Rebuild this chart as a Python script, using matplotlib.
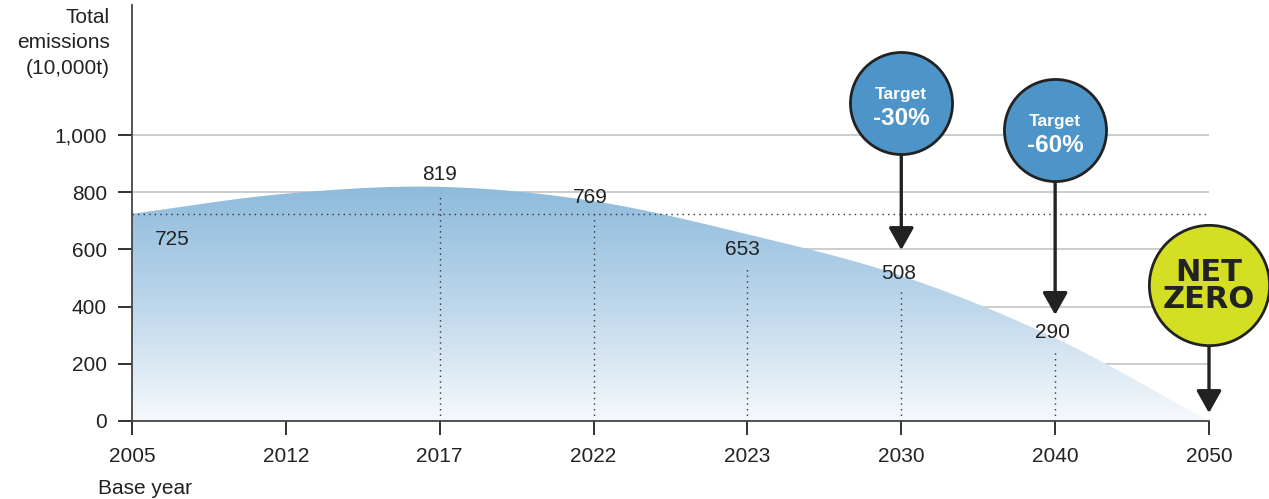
import numpy as np
import matplotlib
matplotlib.use("Agg")
import matplotlib.pyplot as plt
from matplotlib.colors import LinearSegmentedColormap
from matplotlib.patches import Polygon

plt.rcParams['font.family'] = ['Liberation Sans', 'DejaVu Sans']

# data
years = ['2005', '2012', '2017', '2022', '2023', '2030', '2040', '2050']
emissions = [725, 795, 819, 769, 653, 508, 290, 0]
show_label = [True, False, True, True, True, True, True, False]
# label offsets (data units) from the value
label_dy = [-90, 0, 42, 14, -52, 9, 18, 0]
label_dx = [0.26, 0, 0, -0.02, -0.03, -0.02, -0.02, 0]

targets = [('Target', '-30%'), ('Target', '-60%')]
target_x = [5, 6]

fig = plt.figure(figsize=(12.69, 4.99), dpi=100)
ax = fig.add_axes([132 / 1269, 78 / 499, 1077 / 1269, 416 / 499])
ax.set_xlim(0, 7)
ax.set_ylim(0, 1455)

x = np.arange(len(years))
y = np.array(emissions, dtype=float)

# smooth curve through points (Catmull-Rom)
px = np.concatenate([[x[0] - 1], x, [x[-1] + 1]]).astype(float)
py = np.concatenate([[2 * y[0] - y[1]], y, [2 * y[-1] - y[-2]]])
cx, cy = [], []
for i in range(1, len(px) - 2):
    t = np.linspace(0, 1, 40)
    for arr, out in ((px, cx), (py, cy)):
        p0, p1, p2, p3 = arr[i - 1], arr[i], arr[i + 1], arr[i + 2]
        out.extend(0.5 * ((2 * p1) + (-p0 + p2) * t + (2 * p0 - 5 * p1 + 4 * p2 - p3) * t ** 2
                          + (-p0 + 3 * p1 - 3 * p2 + p3) * t ** 3))
cx = np.array(cx)
cy = np.clip(np.array(cy), 0, None)

# gradient fill
cmap = LinearSegmentedColormap.from_list('g', ['#f6f9fc', '#bcd6eb', '#8dbadb'])
grad = np.linspace(0, 1, 256).reshape(-1, 1)
im = ax.imshow(grad, extent=[0, 7, 0, 830], origin='lower', aspect='auto', cmap=cmap, zorder=1)
poly = Polygon(np.column_stack([np.concatenate([[0], cx, [7]]), np.concatenate([[0], cy, [0]])]),
               closed=True, facecolor='none', edgecolor='none')
ax.add_patch(poly)
im.set_clip_path(poly)

# grid
for g in [200, 400, 600, 800, 1000]:
    ax.axhline(g, color='#c8c8c8', lw=1.3, zorder=0.5)

# base year dotted line
ax.plot([0, 7], [emissions[0]] * 2, color='#333333', lw=1, ls=(0, (1, 3)), zorder=3)

# labels and vertical dotted lines
for i in range(len(years)):
    if not show_label[i]:
        continue
    ly = emissions[i] + label_dy[i]
    ax.text(x[i] + label_dx[i], ly, str(emissions[i]), ha='center', va='center',
            fontsize=15, color='#222222', zorder=5)
    if i > 0:
        ax.plot([x[i], x[i]], [0, ly - 63], color='#333333', lw=1, ls=(0, (1, 3)), zorder=3)

# target circles
for (t1, t2), tx in zip(targets, target_x):
    cy_c = 1112 if tx == 5 else 1017
    tip = emissions[tx] + (90 if tx == 5 else 81)
    ax.annotate('', xy=(tx, tip), xytext=(tx, cy_c), zorder=6,
                arrowprops=dict(arrowstyle='-|>,head_length=0.8,head_width=0.45', mutation_scale=17,
                                color='#222222', lw=2.4, shrinkA=0, shrinkB=0))
    ax.scatter([tx], [cy_c], s=5400, color='#4d94c9', edgecolor='#222222', linewidth=2,
               zorder=7, clip_on=False)
    ax.text(tx, cy_c + 30, t1, ha='center', va='center', fontsize=12.5, fontweight='bold',
            color='white', zorder=8)
    ax.text(tx, cy_c - 54, t2, ha='center', va='center', fontsize=17.5, fontweight='bold',
            color='white', zorder=8)

# net zero
ax.annotate('', xy=(7, 28), xytext=(7, 475), zorder=6, annotation_clip=False,
            arrowprops=dict(arrowstyle='-|>,head_length=0.8,head_width=0.45', mutation_scale=17,
                            color='#222222', lw=2.4, shrinkA=0, shrinkB=0))
ax.scatter([7], [475], s=7500, color='#d4df23', edgecolor='#222222', linewidth=2,
           zorder=7, clip_on=False)
ax.text(7, 472, 'NET\nZERO', ha='center', va='center', fontsize=22, fontweight='bold',
        color='#222222', linespacing=0.92, zorder=8, family='DejaVu Sans')

# axes styling
for s in ['top', 'right']:
    ax.spines[s].set_visible(False)
ax.spines['left'].set_color('#444444')
ax.spines['bottom'].set_color('#444444')
ax.spines['left'].set_linewidth(1.3)
ax.spines['bottom'].set_linewidth(1.3)
ax.spines['bottom'].set_zorder(9)
ax.set_xticks(x)
ax.set_xticklabels(years)
ax.set_yticks([0, 200, 400, 600, 800, 1000])
ax.set_yticklabels(['0', '200', '400', '600', '800', '1,000'])
ax.tick_params(axis='both', labelsize=15, colors='#222222', length=10, width=1.3, direction='out')
ax.tick_params(axis='y', pad=8)
ax.tick_params(axis='x', pad=9)

fig.text(110 / 1269, 1 - 43 / 499, 'Total\nemissions\n(10,000t)', ha='right', va='center',
         fontsize=15, color='#222222', linespacing=1.45)
fig.text(98 / 1269, 1 - 489 / 499, 'Base year', ha='left', va='center', fontsize=15, color='#222222')

fig.savefig('out.png', dpi=100)
